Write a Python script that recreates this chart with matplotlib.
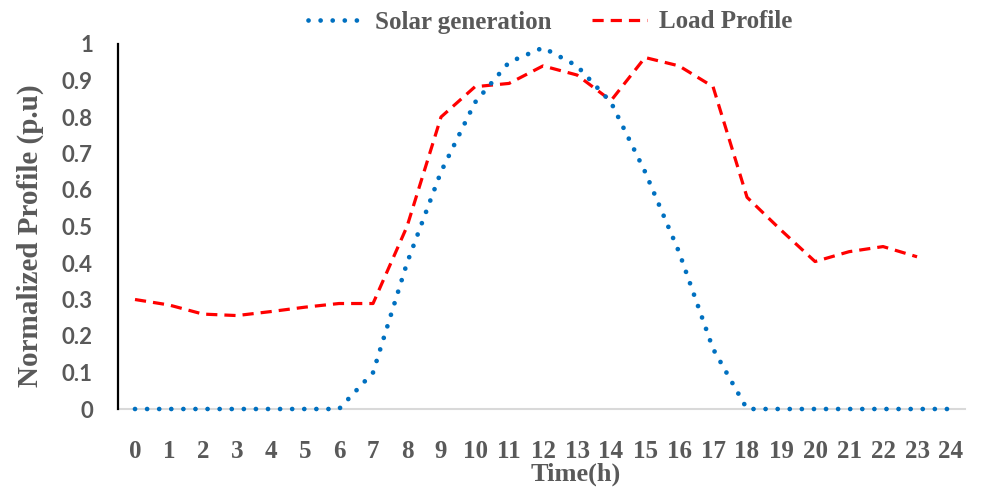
import numpy as np
import matplotlib
matplotlib.use("Agg")
import matplotlib.pyplot as plt
from matplotlib.lines import Line2D
import matplotlib.transforms as mtransforms

# ---------------- data ----------------
hours_solar = list(range(25))
solar = [0, 0, 0, 0, 0, 0, 0, 0.10, 0.40, 0.65, 0.84, 0.95, 0.99, 0.94, 0.84,
         0.65, 0.43, 0.165, 0, 0, 0, 0, 0, 0, 0]
hours_load = list(range(24))
load = [0.30, 0.285, 0.26, 0.256, 0.267, 0.279, 0.289, 0.289, 0.50, 0.80, 0.883,
        0.892, 0.94, 0.915, 0.845, 0.963, 0.94, 0.883, 0.58, 0.49, 0.404, 0.431,
        0.445, 0.417]
x_tick_labels = [str(i) for i in range(25)]
y_ticks = [round(0.1 * i, 1) for i in range(11)]
y_tick_labels = ['0'] + [f"{v:.1f}" for v in y_ticks[1:-1]] + ['1']

BLUE = '#0070C0'
RED = '#FF0000'
GRAY = '#595959'
SERIF = 'Liberation Serif'

fig = plt.figure(figsize=(9.84, 4.88), dpi=100)
ax = fig.add_axes([118 / 984, 1 - 409 / 488, (965 - 118) / 984, (409 - 44) / 488])

solar_style = dict(lw=3.4, ls=(0, (0.01, 2.55)), color=BLUE)
load_style = dict(lw=2.3, ls=(0, (3.5, 2.2)), color=RED)

ax.plot(hours_solar, solar, color=BLUE, lw=solar_style['lw'],
        ls=solar_style['ls'], dash_capstyle='round', solid_joinstyle='round',
        clip_on=False, zorder=5)
ax.plot(hours_load, load, color=RED, lw=load_style['lw'],
        ls=load_style['ls'], dash_capstyle='butt', dash_joinstyle='round',
        clip_on=False, zorder=4)

ax.set_xlim(-0.5, 24.41)
ax.set_ylim(0, 1)

ax.set_xticks(range(25))
ax.set_xticklabels(x_tick_labels, fontfamily=SERIF, fontweight='bold',
                   fontsize=18, color=GRAY)
offset = mtransforms.ScaledTranslation(7 / 100, 0, fig.dpi_scale_trans)
for lab in ax.get_xticklabels():
    lab.set_transform(lab.get_transform() + offset)

ax.set_yticks(y_ticks)
ax.set_yticklabels(y_tick_labels, fontfamily='Lato', fontweight='bold',
                   fontsize=16, color=GRAY)
ax.tick_params(axis='x', length=0, pad=22)
ax.tick_params(axis='y', length=0, pad=18)

for s in ['top', 'right']:
    ax.spines[s].set_visible(False)
ax.spines['left'].set_color('black')
ax.spines['left'].set_linewidth(1.6)
ax.spines['bottom'].set_color('#D9D9D9')
ax.spines['bottom'].set_linewidth(1.5)
ax.spines['bottom'].set_zorder(1)

ax.set_xlabel('Time(h)', fontfamily=SERIF, fontweight='bold', fontsize=19,
              color=GRAY)
ax.xaxis.set_label_coords((576 - 118) / 847, -(474 - 409) / 365)
ax.xaxis.label.set_va('center')
ax.set_ylabel('Normalized Profile (p.u)', fontfamily=SERIF, fontweight='bold',
              fontsize=21, color=GRAY)
ax.yaxis.set_label_coords(-(118 - 30) / 847, (409 - 236) / 365)
ax.yaxis.label.set_va('center')

handles = [Line2D([], [], color=BLUE, lw=solar_style['lw'], ls=solar_style['ls'],
                  dash_capstyle='round'),
           Line2D([], [], color=RED, lw=load_style['lw'], ls=load_style['ls'])]
leg = fig.legend(handles, ['Solar generation', 'Load Profile'], ncol=2,
                 loc='center', bbox_to_anchor=(550 / 984, 1 - 22 / 488),
                 frameon=False, handlelength=2.2, handletextpad=0.5,
                 columnspacing=1.6,
                 prop={'family': SERIF, 'weight': 'bold', 'size': 18})
for t in leg.get_texts():
    t.set_color(GRAY)

fig.savefig('out.png', dpi=100)
